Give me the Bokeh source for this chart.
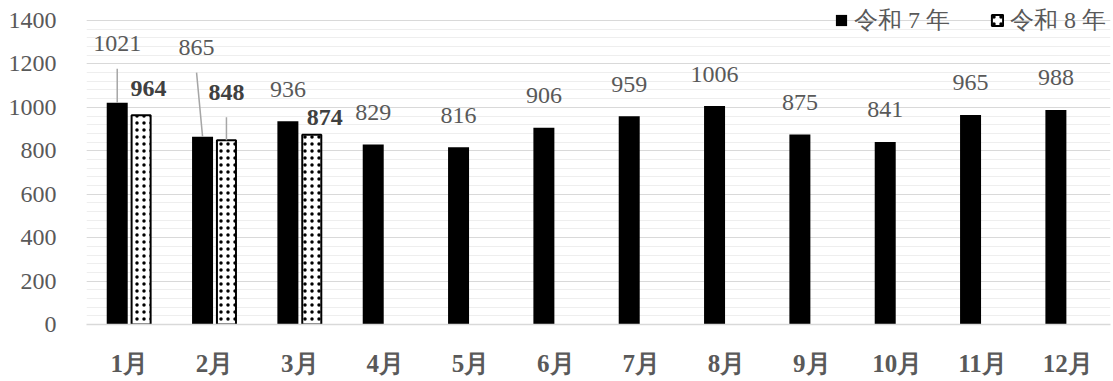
import numpy as np
from bokeh.plotting import figure
from bokeh.models import (ColumnDataSource, Range1d, SingleIntervalTicker,
                          FixedTicker, Legend, LegendItem)
from bokeh.core.properties import value
from bokeh.embed import file_html
from bokeh.resources import INLINE

# ---------------- data ----------------
months = ["1月", "2月", "3月", "4月", "5月", "6月",
          "7月", "8月", "9月", "10月", "11月", "12月"]
series_names = ["令和 7 年", "令和 8 年"]
r7_values = [1021, 865, 936, 829, 816, 906, 959, 1006, 875, 841, 965, 988]
r8_values = [964, 848, 874]
y_max = 1400
y_step = 200

# ---------------- styling ----------------
FONT = "Liberation Serif"
GRAY = "#595959"
FW = 1024
FH_AXIS = 304        # pixel height of the 0..y_max span
TOP_EXTRA = 16       # extra frame room above y_max (for the legend)
FH = FH_AXIS + TOP_EXTRA
OFF = 0.14          # dodge of each series from category centre
W7, W8 = 0.246, 0.223
LABEL_DY = -32      # default label centre above bar top (px)
# manual label nudges (px): (series, index) -> (dx, dy from bar top)
nudges = {(0, 0): (0, -59), (0, 1): (-6, -89),
          (1, 0): (7.5, -27), (1, 1): (0, -48), (1, 2): (13, -17)}
px_x = FW / len(months)
px_y = FH_AXIS / y_max
y_top = y_max * FH / FH_AXIS

p = figure(frame_width=FW, frame_height=FH,
           x_range=Range1d(0.5, len(months) + 0.5), y_range=Range1d(0, y_top),
           output_backend="svg", toolbar_location=None,
           min_border_left=86, min_border_right=3,
           min_border_top=20 - TOP_EXTRA, min_border_bottom=57)
p.outline_line_color = None
p.background_fill_color = "white"
p.border_fill_color = "white"

x_pos = np.arange(1, len(months) + 1)

# bars
src7 = ColumnDataSource(dict(x=x_pos - OFF, top=r7_values))
bar7 = p.vbar(x="x", top="top", bottom=0, width=W7, source=src7,
              fill_color="black", line_color=None)
src8 = ColumnDataSource(dict(x=x_pos[:len(r8_values)] + OFF, top=r8_values))
bar8 = p.vbar(x="x", top="top", bottom=0, width=W8, source=src8,
              fill_color="white", line_color="black", line_width=2,
              hatch_pattern="dot", hatch_color="black", hatch_scale=7,
              hatch_weight=2)

# labels + leader lines
lines_x0, lines_y0, lines_x1, lines_y1 = [], [], [], []
for s, (vals, xs) in enumerate([(r7_values, x_pos - OFF),
                                (r8_values, x_pos[:len(r8_values)] + OFF)]):
    lx, ly, lt, dxs, dys = [], [], [], [], []
    for i, v in enumerate(vals):
        dx, dy = nudges.get((s, i), (0, LABEL_DY))
        lx.append(xs[i]); ly.append(v); lt.append(str(v))
        dxs.append(dx); dys.append(dy)
        if dy < -40:
            lines_x0.append(xs[i]); lines_y0.append(v)
            lines_x1.append(xs[i] + dx / px_x)
            lines_y1.append(v + (-(dy + 25)) / px_y)
    p.text(x="x", y="y", text="t", x_offset="dx", y_offset="dy",
           source=ColumnDataSource(dict(x=lx, y=ly, t=lt, dx=dxs, dy=dys)),
           text_font=value(FONT), text_font_size="24px",
           text_font_style="bold" if s == 1 else "normal",
           text_color="#404040" if s == 1 else GRAY,
           text_align="center", text_baseline="middle")

p.segment(x0=lines_x0, y0=lines_y0, x1=lines_x1, y1=lines_y1,
          line_color="#a6a6a6", line_width=1.5)

# axes
yt = SingleIntervalTicker(interval=y_step, num_minor_ticks=5)
p.yaxis.ticker = yt
p.yaxis.bounds = (0, y_max)
p.yaxis.axis_line_color = None
p.yaxis.major_tick_line_color = None
p.yaxis.minor_tick_line_color = None
p.yaxis.major_label_standoff = 24
p.yaxis.major_label_text_font = FONT
p.yaxis.major_label_text_font_size = "24px"
p.yaxis.major_label_text_color = GRAY

p.ygrid.ticker = yt
p.ygrid.bounds = (0, y_max)
p.ygrid.grid_line_color = "#d9d9d9"
p.ygrid.minor_grid_line_color = "#eeeeee"
p.xgrid.grid_line_color = None

p.xaxis.ticker = FixedTicker(ticks=[int(v) for v in x_pos])
p.xaxis.major_label_overrides = {int(i): m for i, m in zip(x_pos, months)}
p.xaxis.axis_line_color = "#d9d9d9"
p.xaxis.axis_line_width = 1.5
p.xaxis.major_tick_line_color = None
p.xaxis.minor_tick_line_color = None
p.xaxis.major_label_standoff = 19
p.xaxis.major_label_text_font = FONT
p.xaxis.major_label_text_font_size = "25px"
p.xaxis.major_label_text_font_style = "bold"
p.xaxis.major_label_text_color = GRAY

legend = Legend(items=[LegendItem(label=series_names[0], renderers=[bar7]),
                       LegendItem(label=series_names[1], renderers=[bar8])],
                orientation="horizontal", location=(748, 288),
                label_text_font=FONT, label_text_font_size="24px",
                label_text_color=GRAY, glyph_width=14, glyph_height=14,
                label_standoff=6, spacing=40, padding=0, margin=0,
                background_fill_alpha=0, border_line_color=None)
p.add_layout(legend)

open("out.html", "w").write(file_html(p, INLINE))
